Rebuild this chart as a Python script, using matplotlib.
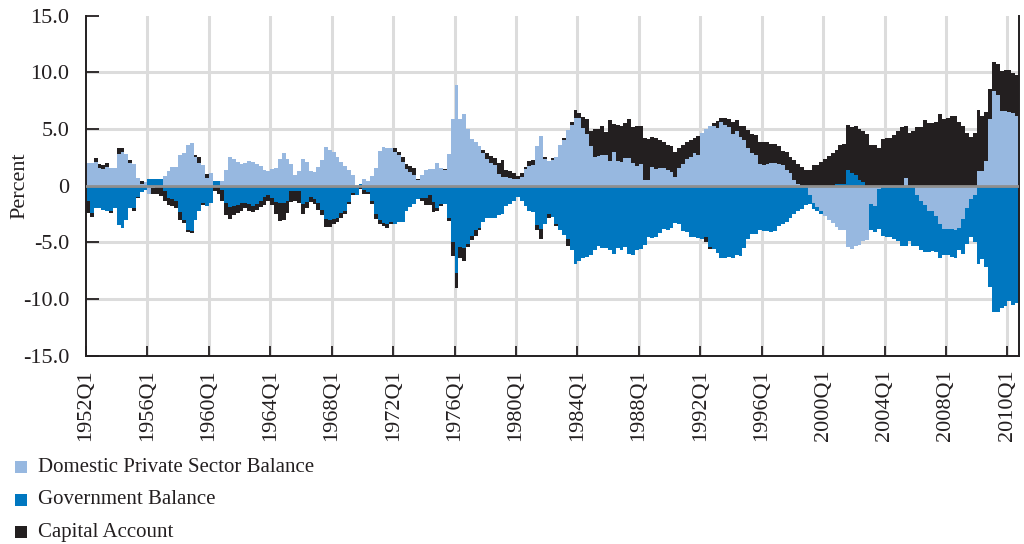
import numpy as np
import matplotlib
matplotlib.use("Agg")
import matplotlib.pyplot as plt
from matplotlib.patches import Rectangle

# quarterly sectoral balances, percent of GDP (1952Q1 onwards)
private_balance = [
    2.0, 2.0, 2.1, 1.6, 1.5, 1.7, 1.6, 1.6, 2.8, 3.0, 2.8, 2.0, 1.9, 0.7, 0.2, 0.3,
    -0.7, -0.2, 0.0, 0.0, 0.9, 1.3, 1.7, 1.7, 2.75, 2.9, 3.6, 3.8, 2.5, 2.0, 1.8, 0.7,
    1.1, 0.0, 0.0, 0.4, 1.4, 2.5, 2.4, 2.1, 1.9, 2.05, 2.2, 2.1, 1.9, 1.75, 1.4, 1.3,
    1.5, 1.6, 2.35, 2.85, 2.4, 1.9, 0.95, 1.3, 2.35, 2.1, 1.3, 1.25, 1.7, 2.25, 3.4, 3.2,
    3.0, 2.55, 2.1, 1.75, 1.4, 0.95, 0.1, 0.0, 0.6, 0.45, 0.9, 1.6, 3.1, 3.4, 3.35, 3.3,
    3.0, 2.7, 2.1, 1.45, 1.25, 0.95, 0.5, 0.95, 1.35, 1.45, 1.45, 2.05, 1.55, 1.35, 2.8, 5.9,
    8.9, 5.9, 6.3, 5.0, 4.1, 3.85, 3.55, 2.9, 2.4, 2.05, 1.8, 1.0, 0.8, 0.8, 0.65, 0.6,
    0.6, 0.8, 1.45, 1.75, 1.8, 3.5, 4.4, 2.4, 2.2, 2.25, 2.55, 3.6, 4.05, 4.95, 5.35, 6.0,
    6.0, 5.1, 4.6, 3.5, 2.55, 2.65, 2.7, 2.75, 2.2, 3.0, 2.2, 2.1, 2.45, 2.45, 2.0, 1.75,
    1.9, 0.5, 0.5, 1.7, 1.45, 1.6, 1.6, 1.35, 1.25, 0.8, 1.55, 1.9, 2.4, 2.55, 2.85, 2.7,
    4.7, 5.0, 5.25, 5.25, 5.1, 5.6, 5.35, 5.15, 4.6, 4.85, 4.3, 4.0, 3.3, 2.85, 2.7, 1.95,
    1.8, 1.95, 2.05, 2.05, 1.95, 1.8, 1.4, 1.1, 0.5, 0.2, 0.0, 0.0, -0.8, -1.55, -1.9, -2.2,
    -2.65, -3.0, -3.25, -3.65, -3.9, -3.9, -5.4, -5.55, -5.3, -5.2, -4.9, -4.8, -1.65, -1.8, -0.3, 0.0,
    0.0, 0.0, 0.0, 0.0, 0.0, 0.7, 0.0, 0.0, -0.8, -1.35, -1.7, -2.25, -2.25, -2.7, -3.35, -3.8,
    -3.85, -3.8, -3.9, -3.7, -2.95, -1.95, -1.2, -0.8, 1.3, 1.3, 2.15, 5.9, 8.35, 8.0, 6.6, 6.6,
    6.5, 6.4, 6.2,
]
government_balance = [
    -1.3, -2.4, -2.0, -2.0, -2.1, -2.2, -2.2, -2.0, -3.5, -3.7, -3.0, -2.0, -2.0, -1.0, -0.55, -0.4,
    0.6, 0.6, 0.6, 0.6, -0.5, -1.1, -1.2, -1.3, -2.3, -3.0, -3.9, -4.0, -3.0, -2.2, -1.5, -1.8,
    -1.5, 0.45, 0.45, -0.4, -1.5, -1.9, -1.8, -1.7, -1.5, -1.5, -1.6, -1.8, -1.6, -1.3, -1.0, -0.8,
    -1.1, -1.4, -1.5, -1.5, -1.3, -0.5, -0.5, -0.5, -1.6, -1.4, -1.0, -1.2, -1.5, -2.1, -2.9, -3.0,
    -2.9, -2.8, -2.4, -2.2, -1.4, -0.6, -0.8, 0.15, -0.4, -0.55, -1.3, -2.5, -3.05, -3.25, -3.4, -3.2,
    -3.4, -3.2, -3.2, -2.2, -1.9, -1.65, -1.2, -1.1, -1.1, -0.8, -1.4, -1.95, -1.6, -1.6, -2.8, -5.0,
    -7.7, -5.4, -5.5, -5.1, -4.4, -3.9, -3.7, -3.2, -2.8, -2.8, -2.8, -2.6, -2.5, -1.8, -1.65, -1.35,
    -1.0, -1.35, -1.8, -2.25, -2.3, -3.5, -3.8, -3.4, -2.5, -2.75, -3.35, -3.9, -4.3, -4.7, -5.7, -6.9,
    -6.6, -6.35, -6.3, -6.1, -5.7, -5.3, -5.45, -5.5, -5.65, -6.0, -5.45, -5.65, -5.4, -6.0, -6.1, -5.65,
    -5.55, -5.2, -4.55, -4.6, -4.5, -4.2, -3.8, -3.9, -3.7, -3.25, -3.4, -4.0, -4.1, -4.5, -4.5, -4.6,
    -4.7, -4.5, -5.4, -5.6, -5.9, -6.35, -6.35, -6.3, -6.35, -6.1, -6.2, -5.5, -4.7, -4.25, -4.25, -3.9,
    -3.95, -4.0, -4.05, -3.95, -3.55, -3.35, -3.2, -2.8, -2.5, -2.2, -2.05, -1.7, -0.85, -0.5, -0.3, -0.3,
    0.0, 0.0, 0.0, 0.15, 0.15, 0.2, 1.35, 1.1, 0.95, 0.5, 0.3, 0.0, -2.25, -2.3, -3.5, -4.4,
    -4.5, -4.5, -4.7, -4.9, -5.3, -5.3, -4.9, -5.3, -4.55, -4.35, -4.1, -3.6, -3.5, -3.1, -3.05, -2.3,
    -2.3, -2.5, -2.5, -2.0, -3.05, -3.2, -3.35, -4.2, -6.9, -6.45, -7.15, -8.9, -11.15, -11.15, -10.8, -10.65,
    -10.2, -10.5, -10.35,
]
capital_account = [
    -1.1, -0.35, 0.35, 0.3, 0.3, 0.35, -0.2, 0.0, 0.5, 0.3, 0.0, 0.3, -0.2, -0.1, 0.2, 0.0,
    0.0, -0.5, -0.7, -0.9, -0.8, -0.6, -0.6, -0.7, -0.7, -0.3, -0.2, -0.2, 0.25, 0.5, -0.2, 0.35,
    0.0, -0.5, -0.7, -0.9, -1.1, -1.0, -0.8, -0.7, -0.7, -0.5, -0.6, -0.5, -0.5, -0.6, -0.7, -0.5,
    -0.6, -1.1, -1.6, -1.5, -1.1, -0.9, -0.8, -1.0, -0.9, -0.6, -0.45, -0.45, -0.6, -0.45, -0.7, -0.6,
    -0.5, -0.4, -0.4, -0.3, -0.2, -0.2, 0.0, -0.3, -0.3, -0.2, -0.3, -0.4, -0.3, -0.3, -0.3, -0.2,
    0.3, 0.3, 0.4, 0.5, 0.5, 0.6, 0.1, -0.2, -0.6, -0.9, -0.9, -0.3, -0.2, 0.1, -0.3, -1.2,
    -1.3, -1.0, -1.1, -0.3, -0.4, -0.5, -0.2, 0.3, 0.5, 0.6, 0.65, 1.0, 1.5, 0.6, 0.65, 0.5,
    0.3, 0.3, 0.2, 0.4, 0.5, -0.4, -0.9, 0.15, -0.3, 0.2, -0.2, 0.0, 0.15, -0.6, 0.3, 0.65,
    0.45, 0.95, 1.3, 1.35, 2.45, 2.4, 2.55, 2.0, 3.6, 2.45, 3.2, 3.15, 3.1, 3.4, 3.2, 3.5,
    3.35, 3.7, 3.6, 2.6, 2.75, 2.4, 2.3, 2.25, 2.3, 2.2, 1.8, 1.7, 1.45, 1.45, 1.4, 1.65,
    0.0, -0.5, -0.2, 0.3, 0.6, 0.4, 0.65, 0.7, 1.0, 0.95, 0.95, 1.3, 1.6, 1.75, 1.75, 1.9,
    2.1, 1.9, 1.65, 1.65, 1.6, 1.3, 1.6, 1.45, 1.75, 1.75, 1.7, 1.4, 1.4, 1.8, 1.8, 2.1,
    2.4, 2.65, 2.85, 3.0, 3.45, 3.45, 4.0, 4.05, 4.3, 4.5, 4.5, 4.6, 3.6, 3.6, 3.3, 4.1,
    4.2, 4.2, 4.45, 4.8, 5.15, 4.55, 4.7, 4.8, 5.15, 5.15, 5.8, 5.55, 5.55, 5.65, 6.3, 5.9,
    6.0, 6.2, 6.2, 5.65, 5.25, 4.65, 4.3, 4.7, 5.4, 4.9, 4.35, 2.65, 2.6, 2.75, 3.5, 3.6,
    3.7, 3.55, 3.6,
]
series_names = ["Domestic Private Sector Balance", "Government Balance", "Capital Account"]
series_colors = ["#97b8e0", "#0077c0", "#231f20"]

tick_labels = ["1952Q1", "1956Q1", "1960Q1", "1964Q1", "1968Q1", "1972Q1", "1976Q1", "1980Q1",
               "1984Q1", "1988Q1", "1992Q1", "1996Q1", "2000Q1", "2004Q1", "2008Q1", "2010Q1"]
tick_pos = [0, 16, 32, 48, 64, 80, 96, 112, 128, 144, 160, 176, 192, 208, 224, 240]
y_ticks = [-15, -10, -5, 0, 5, 10, 15]
y_tick_labels = ["-15.0", "-10.0", "-5.0", "0", "5.0", "10.0", "15.0"]

plt.rcParams['font.family'] = ['Liberation Serif', 'DejaVu Serif']
dark = "#231f20"

fig = plt.figure(figsize=(10.24, 5.44), dpi=100)
ax = fig.add_axes([0.084, 0.346, 0.911, 0.625])

data = np.array([private_balance, government_balance, capital_account], dtype=float)
n = data.shape[1]
x = np.arange(n)

pos_base = np.zeros(n)
neg_base = np.zeros(n)
for vals, col in zip(data, series_colors):
    pos = np.clip(vals, 0, None)
    neg = np.clip(vals, None, 0)
    ax.bar(x, pos, width=1.0, bottom=pos_base, align='edge', color=col, linewidth=0, zorder=2)
    ax.bar(x, neg, width=1.0, bottom=neg_base, align='edge', color=col, linewidth=0, zorder=2)
    pos_base += pos
    neg_base += neg

# grid
for t in tick_pos[1:]:
    ax.axvline(t, color="#dcdcdc", lw=2.2, zorder=0)
for yv in [-10, -5, 5, 10]:
    ax.axhline(yv, color="#dcdcdc", lw=2.2, zorder=0)
ax.axhline(0, color="#8f8f8f", lw=2.0, zorder=3)

ax.set_xlim(0, n)
ax.set_ylim(-15, 15)
ax.set_yticks(y_ticks)
ax.set_yticklabels(y_tick_labels, fontsize=16, color=dark)
ax.set_xticks(tick_pos)
ax.set_xticklabels(tick_labels, rotation=90, fontsize=16, color=dark)
ax.tick_params(axis='y', direction='in', length=9, width=1.3, color=dark, pad=12)
ax.tick_params(axis='x', direction='in', length=7, width=1.3, color=dark, pad=10)
fig.text(20 / 1024, 1 - 186 / 544, "Percent", fontsize=16, color=dark,
         rotation=90, ha='center', va='center')

ax.spines['top'].set_visible(False)
for s in ['left', 'bottom', 'right']:
    ax.spines[s].set_color(dark)
    ax.spines[s].set_linewidth(1.4)

# legend below the chart
for i, (name, col) in enumerate(zip(series_names, series_colors)):
    yc = 1 - (467 + 32.5 * i) / 544
    fig.add_artist(Rectangle((15 / 1024, yc - 6 / 544), 12 / 1024, 12 / 544,
                             transform=fig.transFigure, color=col, lw=0))
    fig.text(38 / 1024, yc, name, fontsize=15, color=dark, va='center', ha='left')

fig.savefig("out.png", dpi=100)
